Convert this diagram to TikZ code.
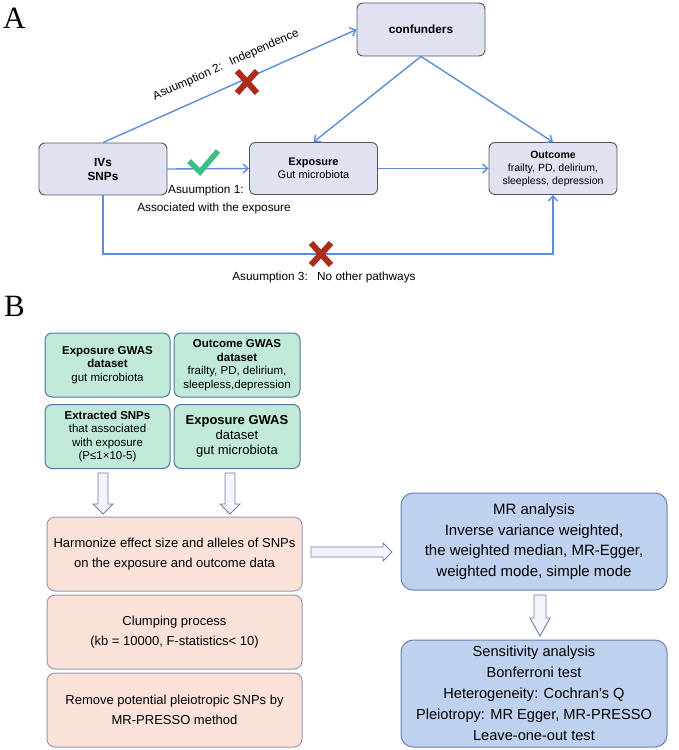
\documentclass[tikz,border=0pt]{standalone}
\usepackage{fontspec}
\setmainfont{Liberation Sans}
\newfontfamily\serifAB{Liberation Serif}
\usetikzlibrary{arrows.meta,calc}
\definecolor{afill}{RGB}{222,226,241}
\definecolor{aedge}{RGB}{85,85,95}
\definecolor{ablue}{RGB}{91,141,216}
\definecolor{xred}{RGB}{172,44,28}
\definecolor{ckgreen}{RGB}{62,190,132}
\definecolor{tfill}{RGB}{192,233,216}
\definecolor{tedge}{RGB}{78,120,160}
\definecolor{pfill}{RGB}{251,226,217}
\definecolor{pedge}{RGB}{150,155,180}
\definecolor{bfill}{RGB}{190,210,240}
\definecolor{bedge}{RGB}{105,130,175}
\definecolor{hfill}{RGB}{242,245,251}
\definecolor{hedge}{RGB}{110,125,165}
\newcommand{\myhdown}[6]{%
  \draw[hollow] ({#1-#4},#2) -- ({#1+#4},#2) -- ({#1+#4},{#3-#6}) -- ({#1+#5},{#3-#6})
    -- (#1,#3) -- ({#1-#5},{#3-#6}) -- ({#1-#4},{#3-#6}) -- cycle;}
\tikzset{
  abox/.style={draw=aedge, fill=afill, rounded corners=6pt, line width=0.9pt,
    align=center, inner sep=1pt, minimum width=128pt, minimum height=52pt},
  arr/.style={draw=ablue, line width=1.4pt, -{Straight Barb[length=5pt,width=9pt]}},
  lbl/.style={inner sep=0pt, font=\fontsize{11.8}{14}\selectfont},
  tbox/.style={draw=tedge, fill=tfill, rounded corners=7pt, line width=1pt,
    align=center, inner sep=1pt, minimum height=64pt, font=\fontsize{11.5}{13.5}\selectfont},
  pbox/.style={draw=pedge, fill=pfill, rounded corners=8pt, line width=1pt,
    align=center, inner sep=1pt, minimum width=255pt, minimum height=74pt,
    font=\fontsize{13}{19.5}\selectfont},
  bbox/.style={draw=bedge, fill=bfill, rounded corners=12pt, line width=1pt,
    align=center, inner sep=1pt, minimum width=266pt},
  hollow/.style={draw=hedge, fill=hfill, line width=0.9pt, line join=miter},
  xmark/.style={draw=xred, line width=6pt},
  panel/.style={anchor=base west, inner sep=0pt, font=\serifAB\fontsize{31}{31}\selectfont}
}
\begin{document}
\begin{tikzpicture}[x=1pt,y=-1pt]
\useasboundingbox (0,0) rectangle (679,750);
% ---------- Panel A ----------
\node[panel] (pA) at (3,28) {A};
\node[abox, font=\bfseries\fontsize{11.8}{14}\selectfont] (ivs) at (103,169) {IVs\\SNPs};
\node[abox, font=\fontsize{11}{13}\selectfont] (exp) at (313.5,168.5) {\textbf{Exposure}\\Gut microbiota};
\node[abox, font=\fontsize{10.5}{13}\selectfont] (out) at (553,168.5) {\textbf{Outcome}\\frailty, PD, delirium,\\sleepless, depression};
\node[abox, minimum height=53pt, font=\bfseries\fontsize{11.8}{14}\selectfont] (conf) at (421,29.5) {confunders};

\draw[arr] (ivs.north) -- (conf.west);
\draw[arr] (conf.south) -- (exp.north);
\draw[arr] (conf.south) -- (out.north);
\draw[arr] (ivs.east) -- (exp.west);
\draw[arr] (exp.east) -- (out.west);
\coordinate (x3) at (321,254);
\draw[arr] (ivs.south) |- (x3) -| (out.south);

\coordinate (x2) at (247,82);
\draw[xmark] ($(x2)+(-10,-11)$) -- ($(x2)+(10,11)$) ($(x2)+(10,-11)$) -- ($(x2)+(-10,11)$);
\draw[xmark] ($(x3)+(-10,-11)$) -- ($(x3)+(10,11)$) ($(x3)+(10,-11)$) -- ($(x3)+(-10,11)$);
\draw[ckgreen, line width=5.5pt, line join=miter] (189,161) -- (200,172) -- (218,151);

\node[lbl, rotate=24] (l2) at (226,65) {Asuumption 2:\hspace{0.7em}Independence};
\node[lbl, anchor=west] (l1a) at (168,190) {Asuumption 1:};
\node[lbl] (l1b) at (214,208) {Associated with the exposure};
\node[lbl] (l3) at (324,277) {Asuumption 3:\hspace{0.8em}No other pathways};

% ---------- Panel B ----------
\node[panel] (pB) at (4,316) {B};
\node[tbox, minimum width=125pt] (t1) at (107.5,365) {\textbf{Exposure GWAS}\\\textbf{dataset}\\gut microbiota};
\node[tbox, minimum width=126pt] (t2) at (237,365) {\textbf{Outcome GWAS}\\\textbf{dataset}\\frailty, PD, delirium,\\sleepless,depression};
\node[tbox, minimum width=125pt] (t3) at (107.5,436.5) {\textbf{Extracted SNPs}\\that associated\\with exposure\\(P≤1×10-5)};
\node[tbox, minimum width=126pt, font=\fontsize{13}{15}\selectfont] (t4) at (237,436.5) {\textbf{Exposure GWAS}\\dataset\\gut microbiota};

\node[pbox] (p1) at (174.5,554) {Harmonize effect size and alleles of SNPs\\on the exposure and outcome data};
\node[pbox] (p2) at (174.5,632) {Clumping process\\(kb = 10000, F-statistics< 10)};
\node[pbox] (p3) at (174.5,710) {Remove potential pleiotropic SNPs by\\MR-PRESSO method};

\node[bbox, minimum height=97pt, font=\fontsize{15}{20.5}\selectfont] (mr) at (534,541.5) {MR analysis\\Inverse variance weighted,\\the weighted median, MR-Egger,\\weighted mode, simple mode};
\node[bbox, minimum height=107pt, font=\fontsize{14.6}{21}\selectfont] (sens) at (534,693.5) {Sensitivity analysis\\Bonferroni test\\Heterogeneity: Cochran's Q\\Pleiotropy: MR Egger, MR-PRESSO\\Leave-one-out test};

\myhdown{103}{473}{514}{5}{10}{10}
\myhdown{230}{473}{514}{5}{10}{10}
\myhdown{540}{595}{636}{6}{10}{18}
\draw[hollow] (311,547) -- (383,547) -- (383,543) -- (392,552) -- (383,561) -- (383,557) -- (311,557) -- cycle;
\end{tikzpicture}
\end{document}
